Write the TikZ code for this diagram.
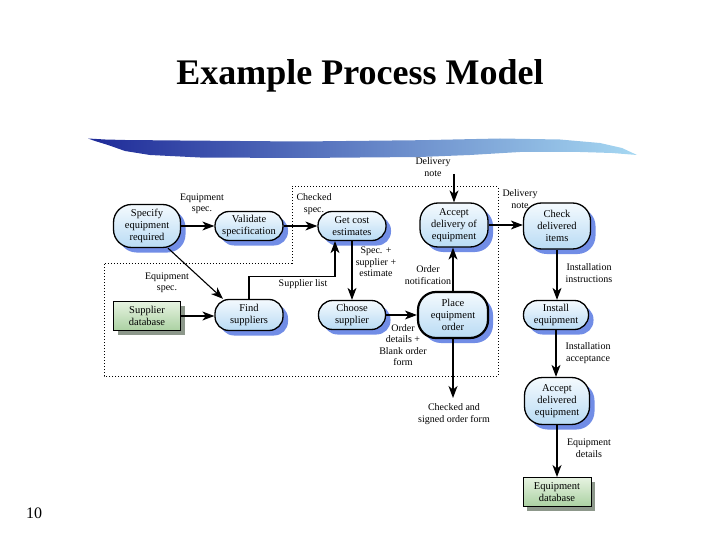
\documentclass[tikz,border=0pt]{standalone}
\usepackage{fontspec}
\setmainfont{Liberation Serif}
\usetikzlibrary{arrows.meta,shadows}
\definecolor{procA}{HTML}{F4FAFE}
\definecolor{procB}{HTML}{B9DBF4}
\definecolor{shblue}{HTML}{4E70E0}
\definecolor{dbA}{HTML}{E6F3E1}
\definecolor{dbB}{HTML}{ABD1A2}
\definecolor{shgray}{HTML}{707E6E}
\definecolor{brushdark}{HTML}{1E2A98}
\definecolor{brushmid}{HTML}{4F70CF}
\definecolor{brushlight}{HTML}{A6D8F2}
\newcommand\difont{\fontsize{10}{11.5}\selectfont}
\newcommand\nofont{\fontsize{10.5}{12}\selectfont}
\tikzset{
 proc/.style={draw=black, line width=1.3pt, rounded corners=14pt,
   top color=procA, bottom color=procB, minimum width=68pt, minimum height=29pt,
   inner sep=0pt, align=center, font=\nofont,
   drop shadow={shadow xshift=5pt, shadow yshift=-5pt, fill=shblue, opacity=0.8}},
 tallproc/.style={proc, rounded corners=18pt, minimum height=45pt},
 store/.style={draw=black, line width=1pt, top color=dbA, bottom color=dbB,
   minimum width=67pt, minimum height=29pt, inner sep=0pt, align=center, font=\nofont,
   drop shadow={shadow xshift=4pt, shadow yshift=-4pt, fill=shgray, opacity=0.8}},
 flow/.style={line width=1.1pt, -{Stealth[length=12pt,width=9pt,inset=3.5pt]}},
 lab/.style={align=center, font=\difont, inner sep=0pt},
 bound/.style={dash pattern=on 1.2pt off 1.8pt, line width=1pt},
}
\begin{document}
\begin{tikzpicture}[x=1pt,y=-1pt]
\useasboundingbox (0,0) rectangle (720,540);
% title
\node[font=\bfseries\fontsize{36}{40}\selectfont] (title) at (360,76) {Example Process Model};
% brush stroke
\shade[left color=brushdark, middle color=brushmid, right color=brushlight]
  (88,138.5) -- (105,139.5) -- (125,140) -- (180,140.5) -- (300,141.5) -- (420,140.2)
  -- (500,138.5) -- (560,139.5) -- (600,143) -- (622,148) -- (637,155)
  -- (612,153) -- (580,152) -- (520,152) -- (470,155) -- (420,157) -- (300,158) -- (200,157.5)
  -- (150,155) -- (125,151) -- (108,145) -- (95,141) -- cycle;
% boundary
\draw[bound] (292,187) -- (498,187) -- (498,376) -- (104,376) -- (104,263) -- (292,263) -- cycle;
% nodes
\node[tallproc, minimum width=67pt, minimum height=43pt] (spec) at (147,226) {Specify\\equipment\\required};
\node[proc] (valid) at (249,226) {Validate\\specification};
\node[proc] (cost) at (352,226) {Get cost\\estimates};
\node[tallproc, minimum height=44pt] (accd) at (454,225) {Accept\\delivery of\\equipment};
\node[tallproc, minimum width=67pt, minimum height=46pt] (check) at (557,226) {Check\\delivered\\items};
\node[proc, minimum height=31pt] (find) at (249,315) {Find\\suppliers};
\node[store] (supdb) at (147,316) {Supplier\\database};
\node[proc, minimum width=67pt] (choose) at (352,315) {Choose\\supplier};
\node[tallproc, line width=2.2pt, minimum width=70pt, minimum height=46pt] (place) at (453,315) {Place\\equipment\\order};
\node[proc, minimum width=65pt] (install) at (556,315) {Install\\equipment};
\node[tallproc, minimum width=65pt, minimum height=47pt] (acceq) at (557,401) {Accept\\delivered\\equipment};
\node[store, minimum width=68pt] (eqdb) at (557,492) {Equipment\\database};
% free ends
\coordinate (dnin) at (454,174);
\coordinate (ordout) at (453,398);
% connectors
\draw[flow] (spec.east) -- (valid.west);
\draw[flow] (valid.east) -- (cost.west);
\draw[flow] ([xshift=21pt]spec.south) -- ([xshift=-26pt]find.north);
\draw[flow] (supdb.east) -- (supdb.east -| find.west);
\draw[flow] (find.north) -- ++(0,-22) -| ([xshift=-17pt]cost.south);
\draw[flow] (cost.south) -- (choose.north);
\draw[flow] (choose.east) -- (choose.east -| place.west);
\draw[flow] (place.north) -- (place.north |- accd.south);
\draw[flow] (place.south) -- (ordout);
\draw[flow] (dnin) -- (accd.north);
\draw[flow] (accd.east) -- (accd.east -| check.west);
\draw[flow] (check.south) -- (check.south |- install.north);
\draw[flow] (install.south) -- (install.south |- acceq.north);
\draw[flow] (acceq.south) -- (acceq.south |- eqdb.north);
% labels
\node[lab] (l1) at (202,204) {Equipment\\spec.};
\node[lab] (l2) at (314,204) {Checked\\spec.};
\node[lab] (l3) at (167,283) {Equipment\\spec.};
\node[lab] (l4) at (303,284) {Supplier list};
\node[lab] (l5) at (376,262) {Spec. +\\supplier +\\estimate};
\node[lab] (l6) at (403,345) {Order\\details +\\Blank order\\form};
\node[lab] (l7) at (428,275) {Order\\notification};
\node[lab] (l8) at (454,414) {Checked and\\signed order form};
\node[lab] (l9) at (433,167) {Delivery\\note};
\node[lab] (l10) at (520,199) {Delivery\\note};
\node[lab] (l11) at (589,273) {Installation\\instructions};
\node[lab] (l12) at (588,353) {Installation\\acceptance};
\node[lab] (l13) at (589,448) {Equipment\\details};
% page number
\node[font=\fontsize{16}{18}\selectfont] (pg) at (34,513) {10};
\end{tikzpicture}
\end{document}
